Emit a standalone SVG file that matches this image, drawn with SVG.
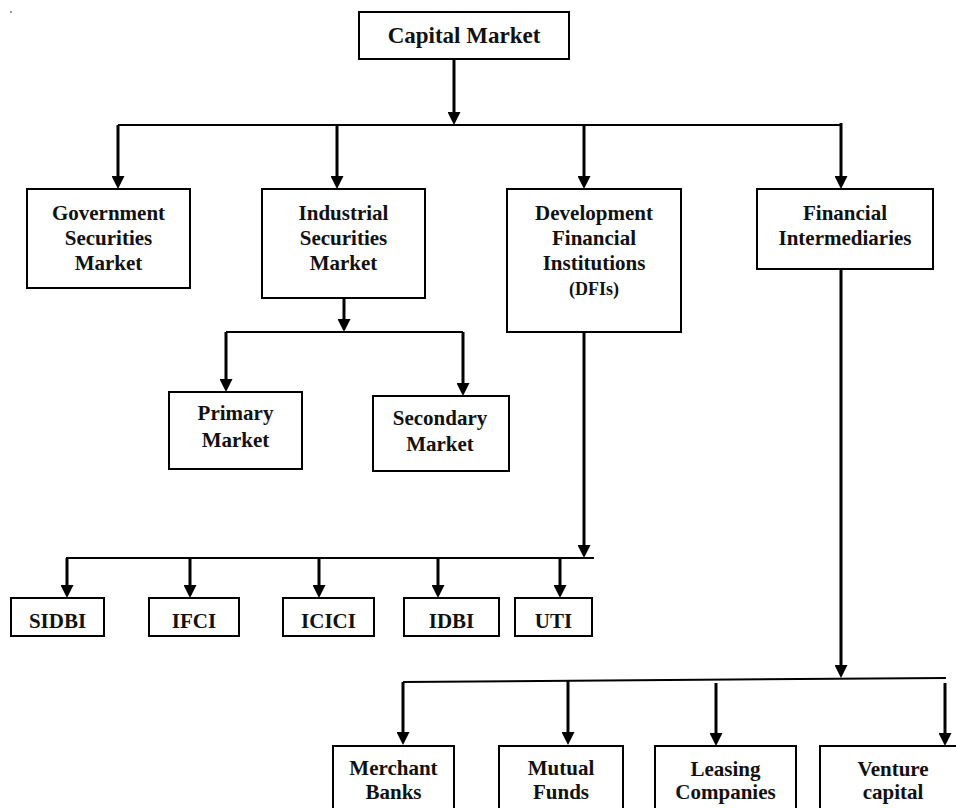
<svg xmlns="http://www.w3.org/2000/svg" width="956" height="808" viewBox="0 0 956 808">
  <style>
    .box { fill: #ffffff; stroke: #000000; stroke-width: 2; }
    .lbl { font-family: "Liberation Serif", "Times New Roman", serif; font-weight: bold; font-size: 21px; fill: #111111; text-anchor: middle; }
    .big { font-size: 23px; }
    .small { font-size: 18px; }
    .bus { fill: none; stroke: #000000; stroke-width: 2; }
    .drop { fill: none; stroke: #000000; stroke-width: 3; marker-end: url(#ah); }
  </style>
  <defs>
    <marker id="ah" markerUnits="userSpaceOnUse" markerWidth="13" markerHeight="13" viewBox="0 0 13 13" refX="5" refY="6.5" orient="auto">
      <path d="M0,0 L13,6.5 L0,13 Z" fill="#000000"/>
    </marker>
  </defs>

  <rect x="10" y="11" width="2" height="2" fill="#999999"/>

  <!-- connectors -->
  <g id="connectors">
    <!-- Capital Market to top bus -->
    <path class="drop" d="M454,59 V117"/>
    <path class="bus" d="M118,125 H841"/>
    <path class="drop" d="M118,125 V181"/>
    <path class="drop" d="M337,125 V181"/>
    <path class="drop" d="M584,125 V181"/>
    <path class="drop" d="M841,123 V181"/>

    <!-- Industrial Securities branch -->
    <path class="drop" d="M344,298 V324"/>
    <path class="bus" d="M226,332 H463"/>
    <path class="drop" d="M226,332 V384"/>
    <path class="drop" d="M463,332 V388"/>

    <!-- DFI branch -->
    <path class="drop" d="M584,332 V550"/>
    <path class="bus" d="M66,558 H594"/>
    <path class="drop" d="M67,558 V590"/>
    <path class="drop" d="M190,558 V590"/>
    <path class="drop" d="M319,558 V590"/>
    <path class="drop" d="M438,558 V590"/>
    <path class="drop" d="M560,558 V590"/>

    <!-- Financial Intermediaries branch -->
    <path class="drop" d="M841,269 V670"/>
    <path class="bus" d="M403,682 L946,678"/>
    <path class="drop" d="M403,682 V737"/>
    <path class="drop" d="M568,681 V737"/>
    <path class="drop" d="M716,683 V738"/>
    <path class="drop" d="M945,683 V738"/>
  </g>

  <g id="capital-market">
    <rect class="box" x="359" y="12" width="210" height="47"/>
    <text class="lbl big" x="464" y="43">Capital Market</text>
  </g>

  <g id="government-securities">
    <rect class="box" x="27" y="189" width="163" height="99"/>
    <text class="lbl" x="108.5" y="220">Government</text>
    <text class="lbl" x="108.5" y="245">Securities</text>
    <text class="lbl" x="108.5" y="270">Market</text>
  </g>

  <g id="industrial-securities">
    <rect class="box" x="262" y="189" width="163" height="109"/>
    <text class="lbl" x="343.5" y="220">Industrial</text>
    <text class="lbl" x="343.5" y="245">Securities</text>
    <text class="lbl" x="343.5" y="270">Market</text>
  </g>

  <g id="dfi">
    <rect class="box" x="507" y="189" width="174" height="143"/>
    <text class="lbl" x="594" y="220">Development</text>
    <text class="lbl" x="594" y="245">Financial</text>
    <text class="lbl" x="594" y="270">Institutions</text>
    <text class="lbl small" x="594" y="295">(DFIs)</text>
  </g>

  <g id="financial-intermediaries">
    <rect class="box" x="757" y="189" width="176" height="80"/>
    <text class="lbl" x="845" y="220">Financial</text>
    <text class="lbl" x="845" y="245">Intermediaries</text>
  </g>

  <g id="primary-market">
    <rect class="box" x="169" y="392" width="133" height="77"/>
    <text class="lbl" x="235.5" y="420">Primary</text>
    <text class="lbl" x="235.5" y="447">Market</text>
  </g>

  <g id="secondary-market">
    <rect class="box" x="373" y="396" width="136" height="75"/>
    <text class="lbl" x="440" y="425">Secondary</text>
    <text class="lbl" x="440" y="451">Market</text>
  </g>

  <g id="sidbi">
    <rect class="box" x="11" y="598" width="93" height="38"/>
    <text class="lbl" x="57.5" y="628">SIDBI</text>
  </g>
  <g id="ifci">
    <rect class="box" x="149" y="598" width="90" height="38"/>
    <text class="lbl" x="194" y="628">IFCI</text>
  </g>
  <g id="icici">
    <rect class="box" x="283" y="598" width="91" height="38"/>
    <text class="lbl" x="328.5" y="628">ICICI</text>
  </g>
  <g id="idbi">
    <rect class="box" x="404" y="598" width="95" height="38"/>
    <text class="lbl" x="451.5" y="628">IDBI</text>
  </g>
  <g id="uti">
    <rect class="box" x="515" y="598" width="77" height="38"/>
    <text class="lbl" x="553.5" y="628">UTI</text>
  </g>

  <g id="merchant-banks">
    <rect class="box" x="333" y="746" width="121" height="80"/>
    <text class="lbl" x="393.5" y="775">Merchant</text>
    <text class="lbl" x="393.5" y="799">Banks</text>
  </g>
  <g id="mutual-funds">
    <rect class="box" x="499" y="746" width="124" height="80"/>
    <text class="lbl" x="561" y="775">Mutual</text>
    <text class="lbl" x="561" y="799">Funds</text>
  </g>
  <g id="leasing-companies">
    <rect class="box" x="655" y="746" width="141" height="80"/>
    <text class="lbl" x="725.5" y="776">Leasing</text>
    <text class="lbl" x="725.5" y="799">Companies</text>
  </g>
  <g id="venture-capital">
    <rect class="box" x="820" y="746" width="146" height="80"/>
    <text class="lbl" x="893" y="776">Venture</text>
    <text class="lbl" x="893" y="799">capital</text>
  </g>
</svg>
